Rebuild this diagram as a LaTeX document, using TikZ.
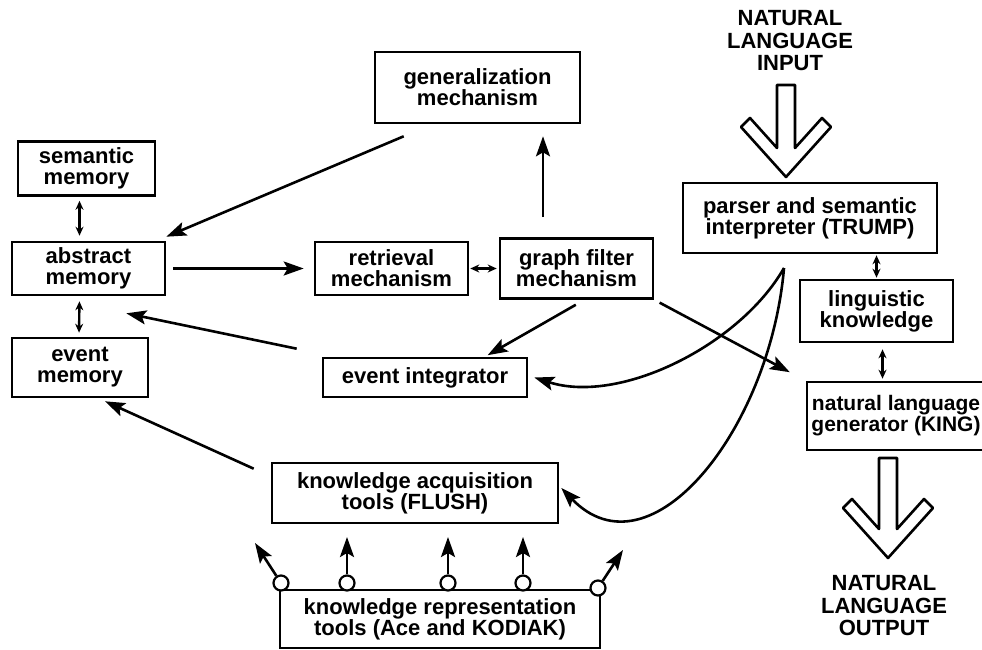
\documentclass[tikz,border=0pt]{standalone}
\usepackage{fontspec}
\setmainfont{Liberation Sans}
\usetikzlibrary{arrows.meta, positioning}
\tikzstyle{block} = [draw=black, line width=2.6pt, align=center, inner sep=0pt]
\tikzstyle{arrow} = [line width=2.6pt,-{Stealth[length=20pt,width=14pt,inset=4pt]},draw=black]
\tikzstyle{dbl} = [line width=2.4pt,{Stealth[length=9pt,width=8pt]}-{Stealth[length=9pt,width=8pt]},draw=black]
\tikzstyle{port} = [circle, draw=black, fill=white, line width=2.2pt, minimum size=15pt, inner sep=0pt]
\tikzstyle{hollow} = [line width=2.6pt, draw=black, fill=white, line join=round]

\begin{document}
\begin{tikzpicture}[x=1pt,y=-1pt,font=\fontsize{22}{21}\selectfont\bfseries]
        \useasboundingbox (0,0) rectangle (982,650);

        \node (abs) [block, minimum width=153pt, minimum height=53pt] at (88.5,268.5) {abstract\\memory};
        \node (sem) [block, minimum width=137pt, minimum height=54pt] at (86.5,168.5) {semantic\\memory};
        \node (evm) [block, minimum width=136pt, minimum height=59pt] [below=40.4pt of abs.south west, anchor=north west] {event\\memory};
        \node (ret) [block, minimum width=153pt, minimum height=53pt] [right=147.4pt of abs] {retrieval\\mechanism};
        \node (gfm) [block, minimum width=153pt, minimum height=60pt] [right=29.4pt of ret] {graph filter\\mechanism};
        \node (gen) [block, minimum width=205pt, minimum height=71pt] at (477.5,87.5) {generalization\\mechanism};
        \node (evi) [block, minimum width=204pt, minimum height=39pt] at (425,377.5) {event integrator};
        \node (par) [block, minimum width=254pt, minimum height=70pt] at (810,218) {parser and semantic\\interpreter (TRUMP)};
        \node (lin) [block, minimum width=153pt, minimum height=62pt] at (876.5,311) {linguistic\\knowledge};
        \node (nlg) [block, minimum width=178pt, minimum height=68pt, font=\fontsize{21}{21}\selectfont\bfseries] at (896,416) {natural language\\generator (KING)};
        \node (kaq) [block, minimum width=286pt, minimum height=60pt] at (415,493) {knowledge acquisition\\tools (FLUSH)};
        \node (krt) [block, minimum width=320pt, minimum height=58pt] at (440,619) {knowledge representation\\tools (Ace and KODIAK)};

        \node (nli) [align=center, font=\fontsize{22}{22.5}\selectfont\bfseries] at (790,41) {NATURAL\\LANGUAGE\\INPUT};
        \node (nlo) [align=center, font=\fontsize{22}{22.5}\selectfont\bfseries] at (884,606) {NATURAL\\LANGUAGE\\OUTPUT};

        \draw[hollow, shift={(786,177)}] (-9,-92) -- (9,-92) -- (9,-29) -- (36,-59) -- (45,-50) -- (0,0) -- (-45,-50) -- (-36,-59) -- (-9,-29) -- cycle;
        \draw[hollow, shift={(888,558)}] (-9,-100) -- (9,-100) -- (9,-29) -- (36,-59) -- (45,-50) -- (0,0) -- (-45,-50) -- (-36,-59) -- (-9,-29) -- cycle;

        \draw[dbl, shorten <=4pt, shorten >=5pt] ([xshift=-7]sem.south) -- ([xshift=-9]abs.north);
        \draw[dbl, shorten <=5pt, shorten >=4pt] ([xshift=-9]abs.south) -- ([xshift=-1]evm.north);
        \draw[dbl, shorten <=1pt, shorten >=2pt] (ret.east) -- (gfm.west);
        \draw[dbl, shorten <=1pt, shorten >=1pt] (lin.north) -- (lin.north |- par.south);
        \draw[dbl, shorten <=6pt, shorten >=2pt] ([xshift=6]lin.south) -- ([xshift=6]lin.south |- nlg.north);

        \draw[arrow] ([shift={(30,12)}]gen.south west) -- ([shift={(0,-4)}]abs.north east);
        \draw[arrow, shorten <=7pt, shorten >=10pt] (abs.east) -- (ret.west);
        \draw[arrow, shorten <=20pt, shorten >=12pt] ([xshift=65.5]gen.south |- gfm.north) -- ([xshift=65.5]gen.south);
        \draw[arrow, shorten <=10pt, shorten >=3pt] ([xshift=8]gfm.south) -- ([xshift=60]evi.north);
        \draw[arrow] ([shift={(-25,-8)}]evi.north west) -- ([shift={(-40,17)}]abs.south east);
        \draw[arrow] ([shift={(-17,7)}]kaq.north west) -- ([shift={(25,3)}]evm.south);
        \draw[arrow, shorten <=6pt, shorten >=18pt] (gfm.south east) -- (nlg.north west);

        \coordinate (tp) at (784,268);
        \draw[arrow] (tp) .. controls (740,345) and (620,405) .. ([xshift=6]evi.east);
        \draw[arrow] (tp) .. controls (770,430) and (650,580) .. ([shift={(2,-5)}]kaq.east);

        \node (c1) [port] at (281,583) {};
        \node (c2) [port] at (347,583) {};
        \node (c3) [port] at (448,583) {};
        \node (c4) [port] at (523,583) {};
        \node (c5) [port] at (598,588) {};
        \coordinate (t1) at (255,543);
        \coordinate (t2) at (347,537);
        \coordinate (t3) at (448,537);
        \coordinate (t4) at (523,537);
        \coordinate (t5) at (623,550);
        \draw[arrow] (c1) -- (t1);
        \draw[arrow] (c2) -- (t2);
        \draw[arrow] (c3) -- (t3);
        \draw[arrow] (c4) -- (t4);
        \draw[arrow] (c5) -- (t5);

    \end{tikzpicture}
\end{document}
